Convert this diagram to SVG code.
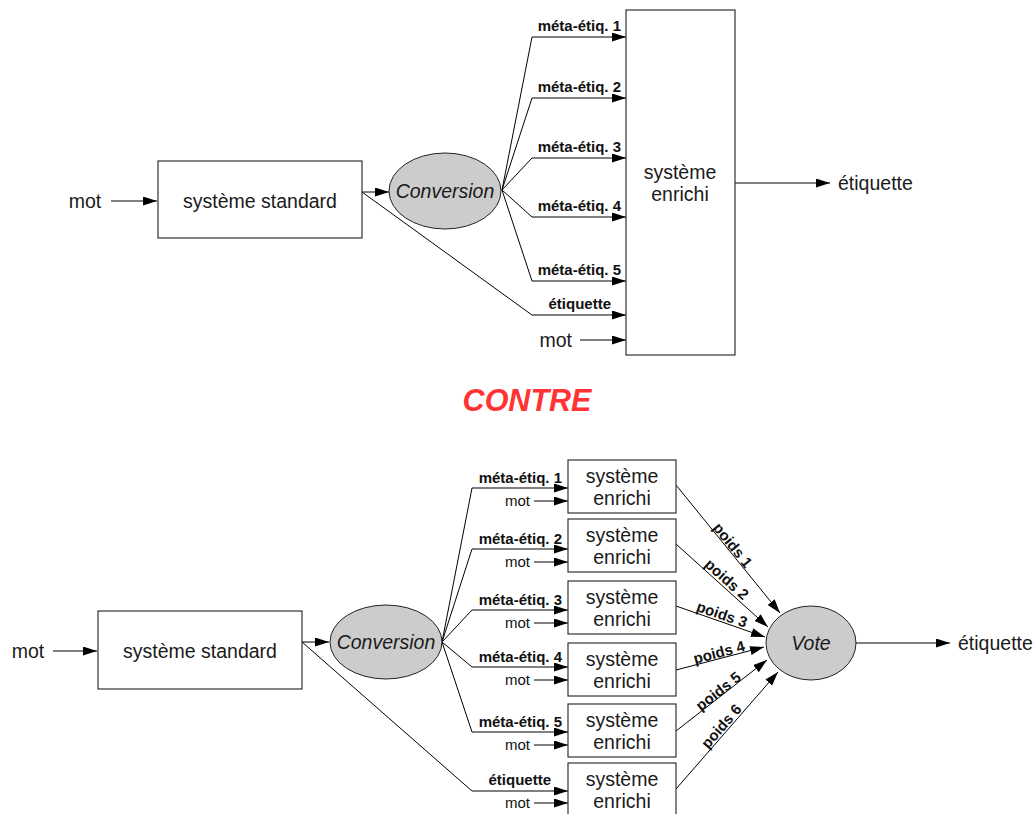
<svg xmlns="http://www.w3.org/2000/svg" width="1035" height="814" viewBox="0 0 1035 814">
<defs>
<marker id="ah" markerUnits="userSpaceOnUse" markerWidth="15" markerHeight="10" refX="14" refY="4.5" orient="auto"><path d="M0,0 L14,4.5 L0,9 z" fill="#000"/></marker>
<style>
.box{fill:#fff;stroke:#333;stroke-width:1.2}
.ell{fill:#cccccc;stroke:#222;stroke-width:1}
.ln{fill:none;stroke:#000;stroke-width:1}
.t{font-family:"Liberation Sans",Arial,sans-serif;font-size:19.5px;fill:#1a1a1a}
.ti{font-family:"Liberation Sans",Arial,sans-serif;font-size:19.5px;font-style:italic;fill:#1a1a1a}
.lb{font-family:"Liberation Sans",Arial,sans-serif;font-size:15px;font-weight:bold;fill:#111}
.sm{font-family:"Liberation Sans",Arial,sans-serif;font-size:15px;fill:#111}
</style>
</defs>
<rect width="1035" height="814" fill="#fff"/>

<g id="connectors">
<!-- top -->
<line class="ln" x1="111" y1="201" x2="157" y2="201" marker-end="url(#ah)"/>
<line class="ln" x1="362" y1="192" x2="389" y2="192" marker-end="url(#ah)"/>
<polyline class="ln" points="502,190 532,37 626,37" marker-end="url(#ah)"/>
<polyline class="ln" points="502,190 532,98 626,98" marker-end="url(#ah)"/>
<polyline class="ln" points="502,190 532,158 626,158" marker-end="url(#ah)"/>
<polyline class="ln" points="502,190 532,217 626,217" marker-end="url(#ah)"/>
<polyline class="ln" points="502,190 532,281 626,281" marker-end="url(#ah)"/>
<polyline class="ln" points="362,192 532,315 626,315" marker-end="url(#ah)"/>
<line class="ln" x1="580" y1="340" x2="626" y2="340" marker-end="url(#ah)"/>
<line class="ln" x1="735" y1="183" x2="830" y2="183" marker-end="url(#ah)"/>
<text class="lb" x="621" y="31" text-anchor="end">méta-étiq. 1</text>
<text class="lb" x="621" y="92" text-anchor="end">méta-étiq. 2</text>
<text class="lb" x="621" y="152" text-anchor="end">méta-étiq. 3</text>
<text class="lb" x="621" y="211" text-anchor="end">méta-étiq. 4</text>
<text class="lb" x="621" y="275" text-anchor="end">méta-étiq. 5</text>
<text class="lb" x="611" y="309" text-anchor="end">étiquette</text>
<text class="t" x="572" y="347" text-anchor="end">mot</text>

<!-- bottom -->
<line class="ln" x1="53" y1="651" x2="97" y2="651" marker-end="url(#ah)"/>
<line class="ln" x1="302" y1="642" x2="329" y2="642" marker-end="url(#ah)"/>
<polyline class="ln" points="442,642 472,488 568,488" marker-end="url(#ah)"/>
<polyline class="ln" points="442,642 472,549 568,549" marker-end="url(#ah)"/>
<polyline class="ln" points="442,642 472,610 568,610" marker-end="url(#ah)"/>
<polyline class="ln" points="442,642 472,667 568,667" marker-end="url(#ah)"/>
<polyline class="ln" points="442,642 472,732 568,732" marker-end="url(#ah)"/>
<polyline class="ln" points="302,642 472,791 568,791" marker-end="url(#ah)"/>
<line class="ln" x1="534" y1="501" x2="568" y2="501" marker-end="url(#ah)"/>
<line class="ln" x1="534" y1="562" x2="568" y2="562" marker-end="url(#ah)"/>
<line class="ln" x1="534" y1="623" x2="568" y2="623" marker-end="url(#ah)"/>
<line class="ln" x1="534" y1="680" x2="568" y2="680" marker-end="url(#ah)"/>
<line class="ln" x1="534" y1="745" x2="568" y2="745" marker-end="url(#ah)"/>
<line class="ln" x1="534" y1="803" x2="568" y2="803" marker-end="url(#ah)"/>
<text class="lb" x="562" y="483" text-anchor="end">méta-étiq. 1</text>
<text class="lb" x="562" y="544" text-anchor="end">méta-étiq. 2</text>
<text class="lb" x="562" y="605" text-anchor="end">méta-étiq. 3</text>
<text class="lb" x="562" y="662" text-anchor="end">méta-étiq. 4</text>
<text class="lb" x="562" y="727" text-anchor="end">méta-étiq. 5</text>
<text class="lb" x="551" y="785" text-anchor="end">étiquette</text>
<text class="sm" x="530" y="506" text-anchor="end">mot</text>
<text class="sm" x="530" y="567" text-anchor="end">mot</text>
<text class="sm" x="530" y="628" text-anchor="end">mot</text>
<text class="sm" x="530" y="685" text-anchor="end">mot</text>
<text class="sm" x="530" y="750" text-anchor="end">mot</text>
<text class="sm" x="530" y="808" text-anchor="end">mot</text>

<line class="ln" x1="676" y1="485" x2="780" y2="613" marker-end="url(#ah)"/>
<line class="ln" x1="676" y1="544" x2="768" y2="627" marker-end="url(#ah)"/>
<line class="ln" x1="676" y1="606" x2="765" y2="637" marker-end="url(#ah)"/>
<line class="ln" x1="676" y1="670" x2="764" y2="647" marker-end="url(#ah)"/>
<line class="ln" x1="676" y1="731" x2="767" y2="660" marker-end="url(#ah)"/>
<line class="ln" x1="676" y1="789" x2="778" y2="672" marker-end="url(#ah)"/>
<text class="lb" text-anchor="middle" dominant-baseline="central" transform="translate(733,545) rotate(51)">poids 1</text>
<text class="lb" text-anchor="middle" dominant-baseline="central" transform="translate(727,579) rotate(42)">poids 2</text>
<text class="lb" text-anchor="middle" dominant-baseline="central" transform="translate(722,614) rotate(19)">poids 3</text>
<text class="lb" text-anchor="middle" dominant-baseline="central" transform="translate(719,652) rotate(-15)">poids 4</text>
<text class="lb" text-anchor="middle" dominant-baseline="central" transform="translate(718,691) rotate(-38)">poids 5</text>
<text class="lb" text-anchor="middle" dominant-baseline="central" transform="translate(721,726) rotate(-49)">poids 6</text>
<line class="ln" x1="855" y1="643" x2="950" y2="643" marker-end="url(#ah)"/>
</g>

<!-- top nodes -->
<g id="mot-top"><text class="t" x="85" y="208" text-anchor="middle">mot</text></g>
<g id="std-top"><rect class="box" x="158" y="161" width="204" height="77"/><text class="t" x="260" y="208" text-anchor="middle">système standard</text></g>
<g id="conv-top"><ellipse class="ell" cx="445" cy="191" rx="56" ry="38"/><text class="ti" x="445" y="198" text-anchor="middle">Conversion</text></g>
<g id="enr-top"><rect class="box" x="626" y="10" width="109" height="345"/><text class="t" x="680" y="179" text-anchor="middle">système</text><text class="t" x="680" y="201" text-anchor="middle">enrichi</text></g>
<g id="out-top"><text class="t" x="838" y="190">étiquette</text></g>

<g id="contre"><text x="527" y="411" text-anchor="middle" font-family="Liberation Sans, Arial, sans-serif" font-size="30.5" font-weight="bold" font-style="italic" fill="#ff3333">CONTRE</text></g>

<!-- bottom nodes -->
<g id="mot-bot"><text class="t" x="28" y="658" text-anchor="middle">mot</text></g>
<g id="std-bot"><rect class="box" x="98" y="611" width="204" height="78"/><text class="t" x="200" y="658" text-anchor="middle">système standard</text></g>
<g id="conv-bot"><ellipse class="ell" cx="386" cy="642" rx="56" ry="37"/><text class="ti" x="386" y="649" text-anchor="middle">Conversion</text></g>
<g id="enr1"><rect class="box" x="568" y="460" width="108" height="53"/><text class="t" x="622" y="483" text-anchor="middle">système</text><text class="t" x="622" y="505" text-anchor="middle">enrichi</text></g>
<g id="enr2"><rect class="box" x="568" y="519" width="108" height="53"/><text class="t" x="622" y="542" text-anchor="middle">système</text><text class="t" x="622" y="564" text-anchor="middle">enrichi</text></g>
<g id="enr3"><rect class="box" x="568" y="581" width="108" height="53"/><text class="t" x="622" y="604" text-anchor="middle">système</text><text class="t" x="622" y="626" text-anchor="middle">enrichi</text></g>
<g id="enr4"><rect class="box" x="568" y="643" width="108" height="53"/><text class="t" x="622" y="666" text-anchor="middle">système</text><text class="t" x="622" y="688" text-anchor="middle">enrichi</text></g>
<g id="enr5"><rect class="box" x="568" y="704" width="108" height="53"/><text class="t" x="622" y="727" text-anchor="middle">système</text><text class="t" x="622" y="749" text-anchor="middle">enrichi</text></g>
<g id="enr6"><rect class="box" x="568" y="763" width="108" height="56"/><text class="t" x="622" y="786" text-anchor="middle">système</text><text class="t" x="622" y="808" text-anchor="middle">enrichi</text></g>
<g id="vote"><ellipse class="ell" cx="811" cy="643" rx="45" ry="37"/><text class="ti" x="811" y="650" text-anchor="middle">Vote</text></g>
<g id="out-bot"><text class="t" x="958" y="650">étiquette</text></g>
</svg>
